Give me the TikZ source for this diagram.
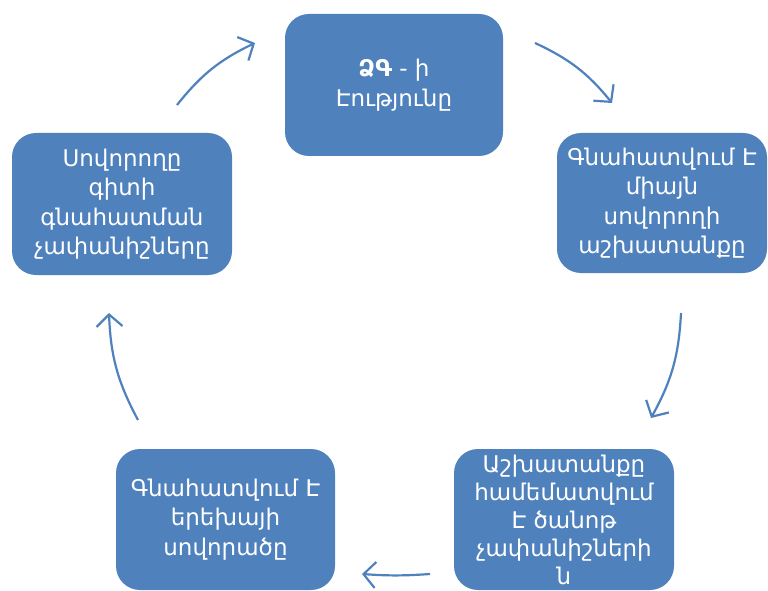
\documentclass[tikz,border=0pt]{standalone}
\usepackage{fontspec}
\setmainfont{DejaVu Sans}
\usetikzlibrary{arrows.meta}
\definecolor{boxblue}{HTML}{4F81BD}
\tikzset{
  box/.style={fill=boxblue, draw=none, rounded corners=24pt, text=white,
    align=center, inner sep=0pt, font=\fontsize{23}{29.5}\selectfont},
  cyc/.style={draw=boxblue, line width=2.2pt, bend left=13,
    -{Straight Barb[length=12pt,width=26pt,line width=2.2pt]}}
}
\begin{document}
\begin{tikzpicture}[x=1pt,y=1pt]
\useasboundingbox (0,0) rectangle (768,590);
\node[box, minimum width=218pt, minimum height=142pt] (top) at (394,505)
  {\textbf{ՁԳ} - ի\\Էությունը};
\node[box, minimum width=210pt, minimum height=140pt] (right) at (662,387)
  {Գնահատվում Է\\միայն\\սովորողի\\աշխատանքը};
\node[box, minimum width=220pt, minimum height=142pt] (left) at (122,386)
  {Սովորողը\\գիտի\\գնահատման\\չափանիշները};
\node[box, minimum width=219pt, minimum height=141pt] (bl) at (225.5,70.5)
  {Գնահատվում Է\\երեխայի\\սովորածը};
\node[box, minimum width=220pt, minimum height=141pt,
  font=\fontsize{23}{28}\selectfont] (br) at (564,70.5)
  {Աշխատանքը\\համեմատվում\\Է ծանոթ\\չափանիշների\\ն};
\coordinate (a1s) at (177,485); \coordinate (a1e) at (255,547);
\coordinate (a2s) at (535,547); \coordinate (a2e) at (612,487);
\coordinate (a3s) at (681,277); \coordinate (a3e) at (651,172);
\coordinate (a4s) at (430,16);  \coordinate (a4e) at (362,16);
\coordinate (a5s) at (138,170); \coordinate (a5e) at (109,277);
\draw[cyc] (a1s) to (a1e);
\draw[cyc] (a2s) to (a2e);
\draw[cyc] (a3s) to (a3e);
\draw[cyc, bend left=4] (a4s) to (a4e);
\draw[cyc] (a5s) to (a5e);
\end{tikzpicture}
\end{document}
